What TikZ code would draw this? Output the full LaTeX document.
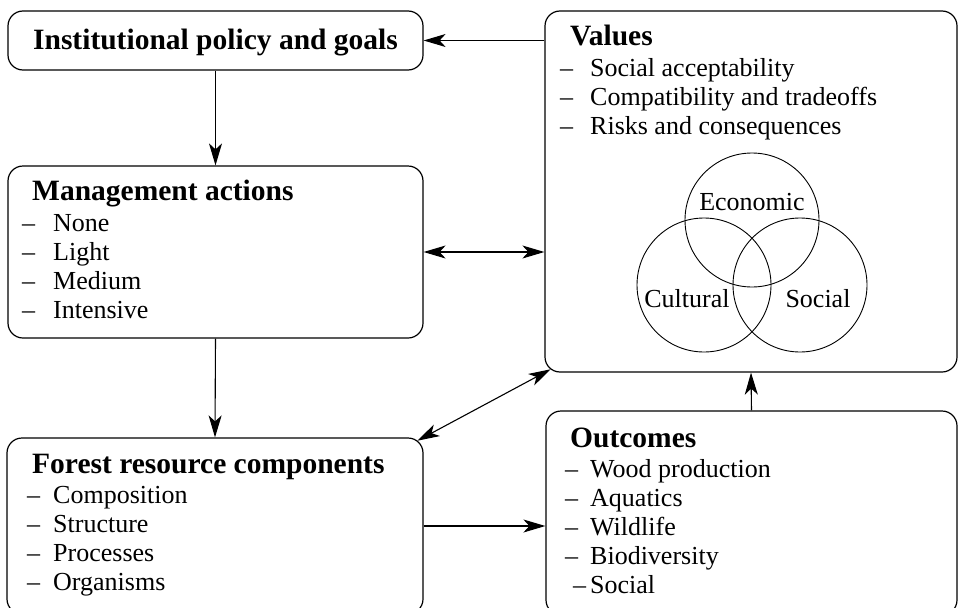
\documentclass[tikz,border=0pt]{standalone}
\usepackage{fontspec}
\setmainfont{Liberation Serif}
\usetikzlibrary{arrows.meta}

% dash in front of a list entry
\newcommand{\dashitem}[2][30pt]{\makebox[#1][l]{--}#2}

\tikzset{
  box/.style={draw, line width=1.2pt, rounded corners=15pt, inner sep=0pt},
  title/.style={font=\fontsize{29.5}{34}\selectfont\bfseries, inner sep=0pt, anchor=base west},
  list/.style={font=\fontsize{26}{29}\selectfont, inner sep=0pt, anchor=base west},
  link/.style={line width=1.1pt, >={Stealth[length=22pt, width=13pt, inset=6pt]}}
}

\begin{document}
\begin{tikzpicture}[x=1pt, y=-1pt]
    \useasboundingbox (0,0) rectangle (959,608);
    \clip (0,0) rectangle (959,608);

    % Draw the boxes
    \node[box, minimum width=415pt, minimum height=59pt] (inst) at (215.5,40.5) {};
    \node[box, minimum width=415pt, minimum height=172pt] (mgmt) at (215.5,252) {};
    \node[box, minimum width=416pt, minimum height=176pt] (forest) at (215,526) {};
    \node[box, minimum width=412pt, minimum height=361pt] (values) at (751,191.5) {};
    \node[box, minimum width=411pt, minimum height=204pt] (outc) at (751.5,513) {};

    % Box titles
    \node[title, anchor=base] (inst-t) at (215.5,49) {Institutional policy and goals};
    \node[title] (mgmt-t) at (32,200) {Management actions};
    \node[title] (forest-t) at (32,473) {Forest resource components};
    \node[title] (values-t) at (570,45) {Values};
    \node[title] (outc-t) at (570,447) {Outcomes};

    % Lists under the titles
    \foreach \txt [count=\i] in {None, Light, Medium, Intensive}
        \node[list] (mgmt-\i) at (22,202+29*\i) {\dashitem[31pt]{\txt}};
    \foreach \txt [count=\i] in {Composition, Structure, Processes, Organisms}
        \node[list] (forest-\i) at (27,474+29*\i) {\dashitem[26pt]{\txt}};
    \foreach \txt [count=\i] in {Social acceptability, Compatibility and tradeoffs, Risks and consequences}
        \node[list] (values-\i) at (560,47+29*\i) {\dashitem{\txt}};
    \foreach \txt [count=\i] in {Wood production, Aquatics, Wildlife, Biodiversity}
        \node[list] (outc-\i) at (565,448+29*\i) {\dashitem[25pt]{\txt}};
    \node[list] (outc-5) at (573,593) {\dashitem[17pt]{Social}};

    % Three overlapping circles
    \draw[line width=0.9pt] (752,220) circle[radius=67];
    \draw[line width=0.9pt] (704,285) circle[radius=67];
    \draw[line width=0.9pt] (800,285) circle[radius=67];
    \node[font=\fontsize{26}{29}\selectfont, inner sep=0pt] (econ) at (752,202) {Economic};
    \node[font=\fontsize{26}{29}\selectfont, inner sep=0pt] (cult) at (687,299) {Cultural};
    \node[font=\fontsize{26}{29}\selectfont, inner sep=0pt] (soc) at (818,299) {Social};

    % Arrows between the boxes
    \draw[link, ->] (values.west |- inst.east) -- (inst.east);
    \draw[link, ->] (inst.south) -- (mgmt.north);
    \draw[link, <->] (mgmt.east) -- (mgmt.east -| values.west);
    \draw[link, ->] (mgmt.south) -- (forest.north);
    \draw[link, <->, shorten <=-7pt, shorten >=-7pt] (forest.north east) -- (values.south west);
    \draw[link, ->] (forest.east) -- (forest.east -| outc.west);
    \draw[link, ->] (outc.north) -- (values.south);
\end{tikzpicture}
\end{document}
